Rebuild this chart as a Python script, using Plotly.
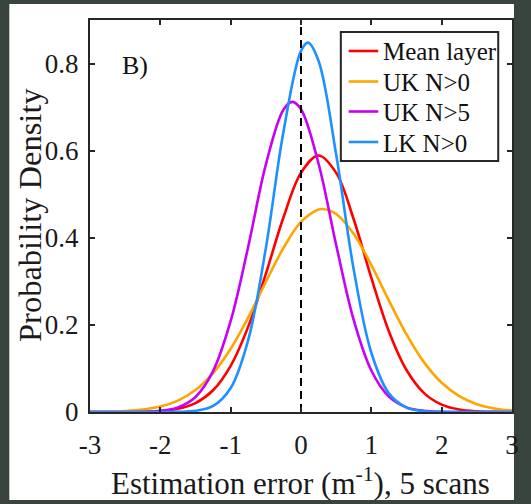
import plotly.graph_objects as go

# ---- data ----
x_grid = [-3, -2.75, -2.5, -2.25, -2, -1.75, -1.5, -1.25, -1, -0.75, -0.5, -0.25,
          0, 0.25, 0.5, 0.75, 1, 1.25, 1.5, 1.75, 2, 2.25, 2.5, 2.75, 3]

mean_x = x_grid
mean_y = [0.0, 0.00003, 0.00015, 0.0006, 0.0023, 0.0074, 0.0205, 0.0499, 0.106, 0.196,
          0.317, 0.4465, 0.549, 0.589, 0.549, 0.442, 0.308, 0.185, 0.0965, 0.0434,
          0.0169, 0.0057, 0.0016, 0.0004, 0.0001]

uk0_x = [-3, -2.75, -2.5, -2.25, -2, -1.75, -1.5, -1.25, -1, -0.75, -0.5, -0.25,
         0, 0.25, 0.31, 0.5, 0.75, 1, 1.25, 1.5, 1.75, 2, 2.25, 2.5, 2.75, 3]
uk0_y = [0.0003, 0.0008, 0.0022, 0.0054, 0.0124, 0.0261, 0.0503, 0.0892, 0.1453, 0.2172,
         0.2984, 0.3766, 0.4365, 0.4649, 0.466, 0.4547, 0.4086, 0.3373, 0.2557, 0.1781,
         0.1139, 0.067, 0.0362, 0.0179, 0.0082, 0.0034]

uk5_x = [-3, -2.75, -2.5, -2.25, -2, -1.75, -1.5, -1.25, -1, -0.75, -0.5, -0.25,
         -0.123, 0, 0.25, 0.5, 0.75, 1, 1.25, 1.5, 1.75, 2, 2.25, 2.5, 2.75, 3]
uk5_y = [0.0, 0.00001, 0.0001, 0.0005, 0.0026, 0.0105, 0.0346, 0.094, 0.209, 0.380,
         0.568, 0.694, 0.712, 0.695, 0.570, 0.3835, 0.211, 0.0953, 0.0352, 0.0107,
         0.0026, 0.0005, 0.0001, 0.0, 0.0, 0.0]

lk0_x = [-3, -2.75, -2.5, -2.25, -2, -1.75, -1.5, -1.25, -1, -0.75, -0.5, -0.25,
         0, 0.1, 0.25, 0.5, 0.75, 1, 1.25, 1.5, 1.75, 2, 2.25, 2.5, 2.75, 3]
lk0_y = [0.0, 0.0, 0.0, 0.0, 0.00004, 0.0004, 0.0026, 0.0138, 0.0551, 0.1658,
         0.376, 0.643, 0.829, 0.848, 0.806, 0.591, 0.3265, 0.136, 0.0427, 0.0101,
         0.0018, 0.0002, 0.0, 0.0, 0.0, 0.0]

zero_x = [0, 0]
zero_y = [0, 0.9]

x_ticks = [-3, -2, -1, 0, 1, 2, 3]
x_tick_text = ["-3", "-2", "-1", "0", "1", "2", "3"]
y_ticks = [0, 0.2, 0.4, 0.6, 0.8]
y_tick_text = ["0", "0.2", "0.4", "0.6", "0.8"]

series_names = ["Mean layer", "UK N>0", "UK N>5", "LK N>0"]
series_x = [mean_x, uk0_x, uk5_x, lk0_x]
series_y = [mean_y, uk0_y, uk5_y, lk0_y]
series_colors = ["#FF0000", "#FFA500", "#C800F5", "#1E90FF"]

FONT = "Liberation Serif"
AX = "#262626"
TXT = "#1a1a1a"

fig = go.Figure()
for name, xs, ys, col in zip(series_names, series_x, series_y, series_colors):
    fig.add_trace(go.Scatter(x=xs, y=ys, name=name, mode="lines", showlegend=False,
                             line=dict(color=col, width=2.6, shape="spline", smoothing=1)))
fig.add_trace(go.Scatter(x=zero_x, y=zero_y, mode="lines", showlegend=False,
                         line=dict(color="black", width=2, dash="8px,5px")))

# plot area in pixels: x 90..519, y 20..412
W, H = 531, 504
L, R, T, B = 90, 12, 20, 92
pw, ph = W - L - R, H - T - B

def px(x):
    return (x - L) / pw

def py(y):
    return (H - B - y) / ph

shapes = [dict(type="rect", xref="paper", yref="paper", layer="below",
               x0=px(8), x1=px(521), y0=py(500), y1=py(4),
               fillcolor="white", line=dict(width=0))]
annotations = [
    dict(text="Probability Density", xref="paper", yref="paper",
         x=px(29), y=py(215), textangle=-90, showarrow=False,
         xanchor="center", yanchor="middle",
         font=dict(family=FONT, size=32.5, color=TXT)),
    dict(text="Estimation error (m<sup>-1</sup>), 5 scans", xref="paper", yref="paper",
         x=px(304), y=py(481), showarrow=False,
         xanchor="center", yanchor="middle",
         font=dict(family=FONT, size=31, color=TXT)),
    dict(text="B)", xref="x", yref="y", x=-2.36, y=0.795, showarrow=False,
         xanchor="center", yanchor="middle",
         font=dict(family=FONT, size=26, color="#111111")),
]

# legend box (drawn by hand so that spacing matches the reference)
shapes.append(dict(type="rect", xref="paper", yref="paper", layer="above",
                   x0=px(345), x1=px(505), y0=py(161), y1=py(32),
                   fillcolor="white", line=dict(color=AX, width=2)))
leg_y = [51, 81.5, 111.5, 142]
for name, col, ly in zip(series_names, series_colors, leg_y):
    shapes.append(dict(type="line", xref="paper", yref="paper", layer="above",
                       x0=px(353), x1=px(383), y0=py(ly), y1=py(ly),
                       line=dict(color=col, width=2.6)))
    annotations.append(dict(text=name.replace(">", "&gt;"), xref="paper", yref="paper",
                            x=px(386), y=py(ly + 1), showarrow=False,
                            xanchor="left", yanchor="middle",
                            font=dict(family=FONT, size=25, color="#111111")))

fig.update_layout(
    width=W, height=H,
    margin=dict(l=L, r=R, t=T, b=B),
    paper_bgcolor="#3a443f",
    plot_bgcolor="white",
    font=dict(family=FONT, color=TXT),
    showlegend=False,
    xaxis=dict(range=[-3, 3], tickvals=x_ticks, ticktext=x_tick_text,
               ticks="inside", ticklen=5, tickwidth=1.5, tickcolor=AX,
               showline=True, linewidth=2, linecolor=AX, mirror="ticks",
               showgrid=False, zeroline=False, ticklabelstandoff=8,
               tickfont=dict(family=FONT, size=27, color=TXT)),
    yaxis=dict(range=[0, 0.9], tickvals=y_ticks, ticktext=y_tick_text,
               ticks="inside", ticklen=5, tickwidth=1.5, tickcolor=AX,
               showline=True, linewidth=2, linecolor=AX, mirror="ticks",
               showgrid=False, zeroline=False, ticklabelstandoff=4,
               tickfont=dict(family=FONT, size=27, color=TXT)),
    shapes=shapes,
    annotations=annotations,
)

fig.write_html("out.html", config={"displayModeBar": False},
               post_script="document.body.style.margin='0';document.body.style.overflow='hidden';")
